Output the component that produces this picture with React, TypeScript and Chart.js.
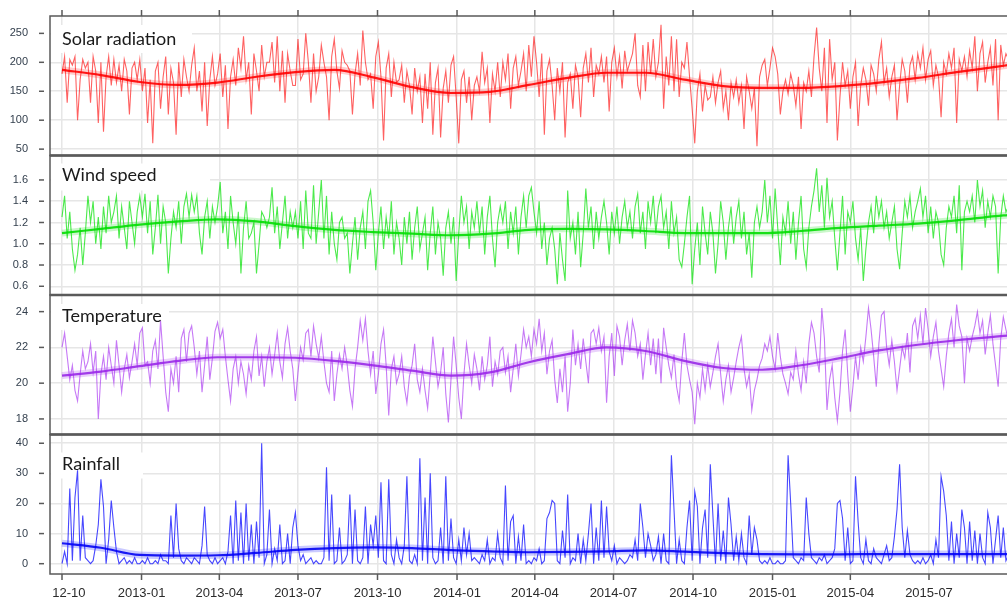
import React, { useEffect, useRef } from 'react';
import { Chart, registerables } from 'chart.js';

Chart.register(...registerables);

// ---- axis / tick definitions ----
const DAY_STEP = 3; // days between consecutive samples (day 0 = 2012-10-01)
const QUARTER_DAYS = [0, 92, 182, 273, 365, 457, 547, 638, 730, 822, 912, 1003];
const QUARTER_LABELS = ['12-10', '2013-01', '2013-04', '2013-07', '2013-10', '2014-01', '2014-04', '2014-07', '2014-10', '2015-01', '2015-04', '2015-07'];
const TREND_DAYS = [0, 45, 90, 135, 180, 225, 270, 315, 360, 405, 450, 495, 540, 585, 630, 675, 720, 765, 810, 855, 900, 945, 990, 1035, 1080, 1094];

const solarTicks = [50, 100, 150, 200, 250];
const windTicks = [0.6, 0.8, 1.0, 1.2, 1.4, 1.6];
const tempTicks = [18, 20, 22, 24];
const rainTicks = [0, 10, 20, 30, 40];

// ---- series (sampled every 3 days) ----
const solar = [
  180, 210, 130, 205, 195, 210, 100, 170, 205, 190,
  200, 130, 210, 185, 95, 200, 80, 175, 210, 160,
  205, 165, 195, 150, 205, 185, 110, 190, 200, 170,
  205, 150, 190, 95, 170, 60, 185, 200, 120, 175,
  210, 110, 190, 165, 75, 200, 140, 205, 175, 150,
  195, 225, 150, 185, 115, 200, 90, 170, 210, 160,
  180, 215, 140, 195, 85, 175, 205, 160, 225, 190,
  245, 170, 200, 110, 215, 185, 150, 230, 175, 200,
  200, 235, 165, 245, 150, 220, 130, 215, 185, 160,
  160, 240, 170, 180, 250, 200, 130, 215, 150, 175,
  230, 200, 175, 100, 210, 240, 185, 155, 220, 200,
  195, 185, 110, 180, 215, 160, 255, 200, 170, 180,
  120, 210, 235, 175, 65, 190, 215, 140, 200, 165,
  170, 195, 130, 185, 160, 110, 190, 150, 175, 95,
  180, 120, 200, 75, 165, 190, 70, 155, 185, 130,
  195, 210, 140, 60, 170, 185, 130, 175, 100, 160,
  175, 150, 218, 165, 190, 95, 180, 150, 200, 140,
  200, 170, 215, 120, 190, 210, 160, 185, 215, 150,
  230, 175, 245, 200, 140, 215, 75, 185, 205, 160,
  100, 190, 150, 200, 70, 165, 180, 120, 195, 175,
  105, 190, 215, 165, 225, 140, 195, 180, 210, 165,
  210, 115, 200, 225, 175, 210, 155, 220, 185, 200,
  215, 250, 160, 140, 230, 150, 235, 180, 240, 175,
  200, 265, 120, 210, 160, 245, 150, 240, 140, 200,
  190, 235, 175, 120, 60, 150, 180, 115, 160, 135,
  140, 175, 130, 165, 185, 120, 150, 100, 165, 140,
  170, 130, 160, 85, 175, 150, 120, 155, 55, 175,
  195, 205, 160, 190, 225, 210, 180, 110, 150, 170,
  145, 180, 160, 125, 175, 85, 165, 150, 185, 140,
  210, 260, 190, 150, 225, 95, 240, 170, 200, 65,
  140, 200, 160, 185, 120, 175, 200, 90, 160, 190,
  170, 125, 195, 180, 150, 205, 235, 165, 190, 140,
  175, 195, 100, 160, 205, 185, 130, 195, 210, 170,
  215, 190, 225, 170, 205, 220, 160, 195, 175, 105,
  200, 180, 215, 190, 225, 95, 205, 185, 210, 175,
  220, 190, 245, 150, 215, 235, 165, 200, 225, 160,
  240, 100, 230, 195, 215, 205,
];

const wind = [
  1.25, 1.45, 1.05, 1.30, 0.95, 0.75, 0.90, 1.15, 0.80, 1.10,
  1.45, 1.20, 1.40, 1.00, 1.25, 0.95, 1.35, 1.10, 1.45, 1.20,
  1.30, 1.45, 1.05, 1.35, 1.15, 0.95, 1.40, 1.20, 1.00, 1.30,
  1.45, 1.25, 1.47, 1.10, 1.40, 0.90, 1.15, 1.46, 1.00, 1.35,
  1.20, 0.72, 1.05, 1.30, 1.15, 1.40, 1.00, 1.35, 1.47, 1.25,
  1.46, 1.30, 1.45, 1.10, 0.90, 1.25, 1.40, 1.05, 1.35, 1.20,
  1.35, 1.58, 1.10, 1.30, 0.95, 1.45, 1.20, 1.00, 1.30, 0.72,
  1.15, 1.40, 1.05, 1.10, 1.20, 0.72, 1.00, 1.30, 1.25, 1.15,
  1.25, 1.53, 1.10, 1.35, 0.95, 1.20, 1.45, 1.05, 1.30, 1.15,
  1.30, 1.05, 1.40, 0.95, 1.50, 1.10, 1.05, 1.55, 1.00, 1.30,
  1.60, 1.05, 1.45, 0.90, 1.30, 1.00, 0.85, 1.20, 1.25, 1.05,
  1.10, 0.72, 1.00, 1.25, 0.85, 1.15, 1.30, 0.95, 1.40, 1.50,
  1.20, 0.75, 1.10, 1.35, 0.95, 1.25, 1.05, 1.40, 0.90, 1.20,
  1.05, 0.80, 1.25, 1.00, 1.30, 0.85, 1.15, 1.35, 0.95, 1.10,
  1.25, 0.75, 1.10, 1.35, 0.90, 1.20, 1.05, 0.70, 1.15, 1.30,
  1.00, 1.25, 0.65, 1.10, 1.45, 1.20, 1.35, 0.95, 1.30, 1.15,
  1.40, 1.10, 1.35, 0.90, 1.25, 1.45, 1.05, 0.78, 1.20, 1.35,
  1.20, 1.40, 0.95, 1.30, 1.10, 1.35, 0.90, 1.25, 1.45, 1.15,
  1.45, 1.53, 1.30, 1.10, 1.40, 0.95, 1.20, 0.80, 1.05, 1.15,
  0.95, 0.62, 1.10, 0.85, 0.65, 1.50, 1.05, 1.20, 0.90, 1.30,
  0.78, 1.10, 1.52, 1.15, 1.35, 0.95, 1.30, 1.05, 1.25, 1.40,
  1.20, 0.90, 1.30, 1.10, 1.35, 1.00, 1.25, 1.40, 1.15, 1.30,
  1.05, 1.35, 1.47, 1.10, 1.30, 0.95, 1.40, 1.20, 1.45, 1.10,
  1.35, 1.45, 1.15, 1.30, 0.95, 1.40, 1.10, 1.25, 0.85, 0.78,
  1.00, 1.25, 1.45, 0.62, 0.95, 1.20, 0.80, 1.35, 1.10, 0.90,
  1.30, 1.10, 0.72, 1.00, 1.40, 1.20, 0.85, 1.15, 1.35, 1.00,
  1.25, 1.40, 1.05, 1.30, 0.90, 1.10, 0.68, 1.20, 1.35, 1.15,
  1.30, 1.60, 1.20, 1.45, 1.05, 1.52, 1.15, 0.80, 1.25, 1.10,
  1.40, 1.00, 1.30, 0.85, 1.20, 1.45, 0.95, 0.78, 1.15, 1.35,
  1.50, 1.71, 1.30, 1.55, 1.15, 1.62, 1.25, 1.40, 1.05, 0.75,
  1.10, 1.45, 0.90, 1.30, 1.20, 1.40, 1.05, 0.85, 1.15, 0.65,
  0.95, 1.20, 1.35, 1.10, 1.45, 1.25, 1.40, 1.15, 1.30, 1.05,
  1.20, 1.35, 0.95, 0.76, 1.10, 1.40, 1.25, 1.45, 1.15, 1.30,
  1.40, 1.52, 1.25, 1.45, 1.10, 1.35, 1.05, 1.30, 1.20, 0.90,
  0.80, 1.15, 1.35, 1.25, 1.45, 1.10, 1.55, 0.75, 1.30, 1.40,
  1.30, 1.45, 1.20, 1.60, 1.35, 1.50, 1.15, 1.40, 1.25, 1.45,
  1.35, 0.72, 1.25, 1.45, 1.30, 1.35,
];

const temperature = [
  22.0, 22.8, 21.5, 20.2, 21.0, 19.6, 19.0, 20.5, 21.8, 20.8,
  21.2, 22.2, 20.6, 21.8, 18.0, 20.5, 21.5, 20.2, 22.0, 21.0,
  20.0, 22.4, 21.0, 19.5, 20.8, 21.6, 20.3, 21.2, 22.2, 21.0,
  22.8, 23.1, 21.0, 21.2, 20.0, 21.8, 22.4, 20.8, 23.5, 21.5,
  19.5, 18.4, 20.8, 20.0, 21.5, 19.5, 22.5, 23.0, 21.2, 22.8,
  23.2, 22.0, 20.5, 21.8, 19.5, 21.0, 22.6, 20.2, 21.4, 22.9,
  23.4, 22.5, 23.0, 21.5, 20.2, 19.0, 20.8, 21.5, 20.0, 21.2,
  20.5, 19.4, 21.0, 20.2, 21.8, 22.6, 20.4, 21.5, 19.8, 21.2,
  22.0, 20.5, 21.6, 22.8, 21.2, 20.3, 22.2, 23.1, 21.8, 20.8,
  19.0, 20.6, 22.0, 21.3, 22.8, 23.0, 21.5, 23.2, 22.2, 21.4,
  22.6, 21.2, 20.0, 19.5, 21.8, 19.0, 20.5, 21.6, 20.8, 22.0,
  21.0, 19.6, 18.7, 20.8, 22.0, 23.5, 22.4, 23.6, 21.8, 20.5,
  21.8, 19.4, 20.5, 22.2, 23.0, 21.0, 18.2, 20.8, 21.5, 20.0,
  20.5, 21.5, 19.8, 18.9, 20.4, 21.0, 22.2, 20.2, 19.5, 20.8,
  19.6, 18.6, 20.5, 22.6, 21.2, 19.8, 20.6, 22.0, 19.4, 17.8,
  20.2, 22.6, 21.0, 19.2, 18.0, 20.5, 22.2, 21.0, 20.0, 21.6,
  20.8, 19.6, 21.5, 20.2, 21.0, 22.6, 19.8, 21.2, 20.5, 21.8,
  22.0, 20.6, 21.5, 19.5, 20.8, 22.2, 20.4, 21.6, 23.0, 22.0,
  22.6, 21.5, 23.0, 22.2, 23.6, 21.8, 22.8, 20.5, 21.8, 22.4,
  20.2, 18.9, 20.8, 19.5, 21.5, 18.4, 20.0, 23.0, 21.0, 22.2,
  20.8, 22.5, 21.2, 20.0, 22.8, 23.0, 22.2, 23.1, 21.8, 22.6,
  18.9, 21.5, 22.8, 20.4, 23.2, 22.6, 21.0, 22.4, 23.3, 21.8,
  23.5, 22.8, 21.5, 22.2, 20.2, 21.6, 22.8, 21.0, 22.5, 20.5,
  22.5, 20.0, 23.1, 22.0, 21.0, 20.3, 21.6, 19.8, 19.0, 21.2,
  22.8, 21.0, 20.2, 19.5, 17.7, 20.0, 19.2, 20.8, 19.6, 21.0,
  19.8, 20.6, 21.5, 22.2, 20.5, 19.0, 20.2, 21.0, 19.5, 20.3,
  21.2, 22.0, 22.6, 20.8, 19.8, 20.5, 18.5, 19.6, 20.2, 21.0,
  21.4, 22.2, 21.8, 22.6, 21.5, 20.8, 22.8, 21.5, 20.5, 20.0,
  19.4, 20.6, 20.2, 21.8, 20.5, 19.6, 21.2, 20.0, 22.2, 23.4,
  22.8, 21.5, 20.6, 24.2, 22.5, 18.5, 20.2, 21.0, 19.2, 17.9,
  19.5, 21.8, 23.0, 20.5, 18.4, 19.8, 21.5, 20.2, 22.0, 21.2,
  22.6, 24.2, 23.0, 21.5, 19.8, 22.2, 23.8, 24.0, 22.0, 21.0,
  22.4, 21.2, 19.6, 20.8, 22.0, 21.4, 22.8, 20.6, 23.2, 23.6,
  22.5, 23.8, 22.2, 24.2, 23.0, 21.5, 22.6, 23.4, 21.8, 20.8,
  19.8, 21.5, 22.8, 23.6, 22.0, 24.4, 23.2, 22.6, 20.0, 22.5,
  21.8, 22.6, 23.2, 24.0, 22.8, 23.5, 21.6, 22.8, 23.8, 22.2,
  21.0, 19.8, 22.5, 23.7, 23.0, 22.4,
];

const rainfall = [
  0, 4, 0, 25, 1, 22, 31, 1, 16, 2,
  1, 0, 1, 6, 13, 28, 19, 0, 8, 21,
  12, 4, 0, 1, 2, 0, 1, 0, 2, 0,
  0, 1, 0, 2, 0, 0, 1, 0, 3, 1,
  1, 0, 16, 2, 20, 5, 1, 0, 2, 1,
  0, 2, 1, 0, 6, 19, 3, 1, 0, 2,
  0, 1, 2, 0, 4, 16, 0, 21, 1, 17,
  0, 20, 1, 13, 0, 14, 2, 40, 0, 3,
  18, 0, 5, 1, 13, 0, 1, 10, 0, 12,
  17, 6, 1, 3, 0, 1, 2, 0, 1, 0,
  0, 2, 32, 1, 23, 0, 1, 12, 0, 1,
  3, 23, 0, 18, 1, 0, 2, 19, 0, 13,
  6, 16, 2, 27, 1, 0, 28, 3, 0, 8,
  2, 0, 6, 29, 1, 0, 3, 0, 35, 1,
  22, 0, 30, 2, 0, 1, 12, 0, 29, 1,
  15, 2, 0, 8, 1, 12, 3, 10, 1, 2,
  1, 0, 3, 1, 8, 0, 2, 1, 10, 2,
  0, 26, 1, 14, 16, 0, 9, 1, 13, 0,
  1, 0, 2, 1, 5, 0, 1, 15, 17, 21,
  20, 1, 0, 11, 2, 23, 0, 2, 1, 10,
  0, 8, 1, 10, 20, 0, 12, 1, 21, 2,
  19, 4, 1, 6, 0, 2, 1, 0, 1, 3,
  2, 8, 1, 20, 12, 2, 10, 6, 1, 3,
  9, 0, 10, 1, 0, 36, 18, 0, 8, 1,
  0, 12, 21, 1, 24, 19, 0, 12, 18, 2,
  33, 16, 0, 20, 1, 11, 0, 22, 13, 1,
  9, 1, 10, 2, 0, 16, 3, 12, 8, 1,
  0, 1, 0, 2, 0, 0, 1, 0, 0, 1,
  36, 20, 2, 1, 0, 2, 1, 22, 10, 2,
  1, 0, 2, 1, 3, 0, 1, 2, 5, 20,
  21, 15, 1, 12, 0, 1, 29, 14, 2, 0,
  8, 1, 0, 5, 2, 1, 0, 3, 6, 1,
  2, 9, 18, 33, 12, 2, 11, 3, 1, 0,
  1, 0, 2, 0, 1, 3, 0, 8, 2, 29,
  24, 16, 1, 14, 0, 10, 2, 18, 12, 0,
  14, 1, 11, 0, 10, 2, 0, 17, 12, 0,
  8, 16, 2, 12, 1, 3,
];

// ---- smoothed trends (at TREND_DAYS) ----
const solarTrend = [187, 178, 166, 161, 165, 175, 183, 187, 174, 157, 147, 149, 161, 173, 182, 182, 170, 159, 156, 156, 159, 165, 173, 183, 192, 195];
const windTrend = [1.10, 1.14, 1.18, 1.21, 1.23, 1.21, 1.165, 1.13, 1.11, 1.095, 1.08, 1.095, 1.13, 1.14, 1.135, 1.12, 1.10, 1.10, 1.10, 1.12, 1.15, 1.17, 1.19, 1.22, 1.26, 1.27];
const tempTrend = [20.42, 20.65, 20.95, 21.25, 21.45, 21.45, 21.42, 21.25, 21.0, 20.7, 20.42, 20.6, 21.17, 21.62, 22.0, 21.8, 21.25, 20.85, 20.75, 21.0, 21.4, 21.83, 22.15, 22.4, 22.6, 22.66];
const rainTrend = [6.8, 5.3, 2.9, 2.7, 2.8, 3.6, 4.6, 5.2, 5.4, 5.2, 4.5, 4.1, 3.8, 3.9, 4.1, 4.4, 4.0, 3.5, 3.2, 3.1, 3.1, 3.2, 3.2, 3.2, 3.2, 3.2];

// ---- layout constants ----
const CANVAS_W = 1030;
const CANVAS_H = 599;
const PLOT_LEFT = 50;
const PLOT_TOP = 16;
const PLOT_BOTTOM = 574;
const PX_PER_DAY = 0.8644;
const X_MIN = -(62 - PLOT_LEFT) / PX_PER_DAY;
const X_MAX = X_MIN + (CANVAS_W - PLOT_LEFT) / PX_PER_DAY;
const GRID = '#e6e6e6';
const FRAME = '#5a5a5a';
const TICK_FONT = '"Liberation Sans", Arial, sans-serif';

type Panel = {
  id: string; title: string; values: number[]; trend: number[]; ticks: number[];
  min: number; max: number; line: string; trendColor: string; band: string;
  titleDy: number; boxW: number; boxTop: number; boxH: number; decimals: number;
};

const PANELS: Panel[] = [
  { id: 'ySolar', title: 'Solar radiation', values: solar, trend: solarTrend, ticks: solarTicks, min: 39, max: 280,
    line: 'rgba(255,0,0,0.62)', trendColor: '#ff0000', band: 'rgba(255,80,80,0.28)', titleDy: 29, boxW: 141, boxTop: 9, boxH: 28, decimals: 0 },
  { id: 'yWind', title: 'Wind speed', values: wind, trend: windTrend, ticks: windTicks, min: 0.518, max: 1.83,
    line: 'rgba(0,225,0,0.7)', trendColor: '#00dd00', band: 'rgba(80,230,80,0.3)', titleDy: 25.5, boxW: 159, boxTop: 8, boxH: 27, decimals: 1 },
  { id: 'yTemp', title: 'Temperature', values: temperature, trend: tempTrend, ticks: tempTicks, min: 17.13, max: 24.93,
    line: 'rgba(160,32,240,0.6)', trendColor: '#9a30e6', band: 'rgba(180,90,240,0.28)', titleDy: 27, boxW: 118, boxTop: 9, boxH: 26, decimals: 0 },
  { id: 'yRain', title: 'Rainfall', values: rainfall, trend: rainTrend, ticks: rainTicks, min: -3.42, max: 42.9,
    line: 'rgba(0,0,255,0.72)', trendColor: '#0000ee', band: 'rgba(80,80,255,0.3)', titleDy: 35.5, boxW: 92, boxTop: 18, boxH: 26, decimals: 0 },
];

function zeroPadding(axis: any) {
  axis.paddingTop = 0;
  axis.paddingBottom = 0;
  axis.paddingLeft = 0;
  axis.paddingRight = 0;
}

export default function App() {
  const ref = useRef<HTMLCanvasElement>(null);

  useEffect(() => {
    document.body.style.margin = '0';
    const canvas = ref.current;
    if (!canvas) return;

    const datasets: any[] = [];
    PANELS.forEach((p) => {
      datasets.push({
        data: p.values.map((v, i) => ({ x: i * DAY_STEP, y: v })),
        yAxisID: p.id, borderColor: p.line, borderWidth: 1.1, pointRadius: 0, tension: 0, fill: false,
      });
      datasets.push({
        data: p.trend.map((v, i) => ({ x: TREND_DAYS[i], y: v })),
        yAxisID: p.id, borderColor: p.band, borderWidth: 7, pointRadius: 0, cubicInterpolationMode: 'monotone', fill: false,
      });
      datasets.push({
        data: p.trend.map((v, i) => ({ x: TREND_DAYS[i], y: v })),
        yAxisID: p.id, borderColor: p.trendColor, borderWidth: 2.2, pointRadius: 0, cubicInterpolationMode: 'monotone', fill: false,
      });
    });

    const scales: any = {
      x: {
        type: 'linear', min: X_MIN, max: X_MAX,
        grid: { color: GRID, lineWidth: 1.5, drawTicks: false },
        border: { display: false },
        ticks: { display: false },
        afterBuildTicks: (axis: any) => { axis.ticks = QUARTER_DAYS.map((v) => ({ value: v })); },
        afterFit: (axis: any) => { axis.height = CANVAS_H - PLOT_BOTTOM; zeroPadding(axis); },
      },
    };
    PANELS.forEach((p, i) => {
      scales[p.id] = {
        type: 'linear', position: 'left', stack: 'panels', stackWeight: 1, weight: PANELS.length - i,
        min: p.min, max: p.max,
        grid: { color: GRID, lineWidth: 1.5, drawTicks: false },
        border: { display: false },
        ticks: {
          autoSkip: false, padding: 22, color: '#34404e',
          font: { family: TICK_FONT, size: 11 },
          callback: (v: any) => Number(v).toFixed(p.decimals),
        },
        afterBuildTicks: (axis: any) => { axis.ticks = p.ticks.map((v) => ({ value: v })); },
        afterFit: (axis: any) => { axis.width = PLOT_LEFT; zeroPadding(axis); },
      };
    });

    const decor = {
      id: 'decor',
      beforeDatasetsDraw(chart: any) {
        const ctx = chart.ctx;
        ctx.save();
        ctx.fillStyle = '#ffffff';
        PANELS.forEach((p) => {
          const s = chart.scales[p.id];
          ctx.fillRect(chart.chartArea.left + 1, s.top + p.boxTop, p.boxW, p.boxH);
        });
        ctx.restore();
      },
      afterDraw(chart: any) {
        const { ctx, chartArea } = chart;
        const xs = chart.scales.x;
        ctx.save();
        ctx.strokeStyle = FRAME;
        ctx.lineWidth = 1.5;
        PANELS.forEach((p) => {
          const s = chart.scales[p.id];
          ctx.strokeRect(chartArea.left, s.top, chartArea.right - chartArea.left + 5, s.bottom - s.top);
          p.ticks.forEach((v) => {
            const y = s.getPixelForValue(v);
            ctx.beginPath();
            ctx.moveTo(39, y);
            ctx.lineTo(44, y);
            ctx.stroke();
          });
        });
        // thicker separators between panels
        ctx.lineWidth = 2.5;
        PANELS.slice(1).forEach((p) => {
          const s = chart.scales[p.id];
          ctx.beginPath();
          ctx.moveTo(chartArea.left, s.top);
          ctx.lineTo(chartArea.right, s.top);
          ctx.stroke();
        });
        // x ticks (top and bottom) and labels
        ctx.lineWidth = 1.5;
        ctx.fillStyle = '#2b2b2b';
        ctx.font = `13px ${TICK_FONT}`;
        ctx.textBaseline = 'middle';
        QUARTER_DAYS.forEach((d, i) => {
          const x = xs.getPixelForValue(d);
          ctx.beginPath();
          ctx.moveTo(x, chartArea.top - 6);
          ctx.lineTo(x, chartArea.top);
          ctx.moveTo(x, chartArea.bottom);
          ctx.lineTo(x, chartArea.bottom + 6);
          ctx.stroke();
          if (i === 0) {
            ctx.textAlign = 'right';
            ctx.fillText(QUARTER_LABELS[i], x + 23.5, 593.5);
          } else {
            ctx.textAlign = 'center';
            ctx.fillText(QUARTER_LABELS[i], x, 593.5);
          }
        });
        // panel titles
        ctx.fillStyle = '#1a1a1a';
        ctx.font = '18px Lato, "Open Sans", sans-serif';
        ctx.textAlign = 'left';
        ctx.textBaseline = 'alphabetic';
        PANELS.forEach((p) => {
          const s = chart.scales[p.id];
          ctx.fillText(p.title, 62, s.top + p.titleDy);
        });
        ctx.restore();
      },
    };

    const chart = new Chart(canvas, {
      type: 'line',
      data: { datasets },
      options: {
        animation: false,
        responsive: false,
        events: [],
        layout: { padding: { top: PLOT_TOP, left: 0, right: 0, bottom: 0 } },
        plugins: { legend: { display: false }, tooltip: { enabled: false }, title: { display: false } },
        scales,
      } as any,
      plugins: [decor],
    });
    return () => chart.destroy();
  }, []);

  return (
    <div style={{ width: 1007, height: CANVAS_H, overflow: 'hidden', position: 'relative', background: '#fff' }}>
      <canvas ref={ref} width={CANVAS_W} height={CANVAS_H} style={{ display: 'block' }} />
    </div>
  );
}
